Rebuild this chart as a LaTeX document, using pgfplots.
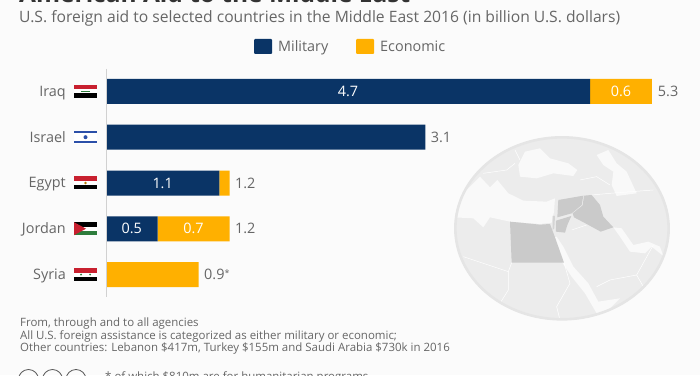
\documentclass[border=0pt]{standalone}
\usepackage{pgfplots}
\pgfplotsset{compat=1.18}
\usepackage{fontspec}
\setmainfont{Open Sans}
\definecolor{navy}{HTML}{0A3466}
\definecolor{amber}{HTML}{FFB000}
\definecolor{txt}{HTML}{666666}
\definecolor{bgc}{HTML}{FBFBFB}
\definecolor{land}{HTML}{ECECEC}
\definecolor{sea}{HTML}{F9F9F9}
\definecolor{mapb}{HTML}{CACACA}
\definecolor{flagr}{HTML}{C8202F}
\definecolor{flagg}{HTML}{2E7D3C}
\definecolor{flagb}{HTML}{2B4FA8}
\pgfplotstableread{
y mil eco
0 4.7 0.6
1 3.1 0
2 1.1 0.1
3 0.5 0.7
4 0   0.9
}\aid
\newcommand{\lab}{\fontsize{14.4}{16}\selectfont}
\newcommand{\foot}{\fontsize{11.47}{13}\selectfont}
\begin{document}
\begin{tikzpicture}[x=1pt,y=1pt]
\path[use as bounding box] (0,0) rectangle (700,375);
\clip (0,0) rectangle (700,375);
\fill[bgc] (0,0) rectangle (700,375);
% map backdrop (drawn in the coordinates of a 3x crop of the reference)
\begin{scope}[shift={(440,245)},x=0.3333pt,y=-0.3333pt]
\begin{scope}
\clip (366,295) ellipse [x radius=322,y radius=275];
\fill[land] (366,295) ellipse [x radius=322,y radius=275];
% Mediterranean
\fill[sea] (40,262) -- (75,185) -- (120,140) -- (150,172) -- (172,150) -- (205,190) -- (250,212) -- (320,215) -- (345,205) -- (342,245) -- (335,278) -- (300,282) -- (210,275) -- (150,262) -- (130,292) -- (100,265) -- cycle;
% Black Sea
\fill[sea] (235,105) -- (255,65) -- (300,55) -- (330,85) -- (385,100) -- (412,120) -- (400,138) -- (340,130) -- (290,145) -- (240,140) -- cycle;
% Caspian
\fill[sea] (470,75) -- (505,60) -- (530,100) -- (560,125) -- (590,190) -- (530,198) -- (515,165) -- (520,125) -- (490,105) -- cycle;
% Red Sea
\fill[sea] (310,305) -- (335,325) -- (350,320) -- (370,350) -- (400,410) -- (445,460) -- (475,515) -- (540,505) -- (500,545) -- (470,550) -- (435,490) -- (395,440) -- (365,395) -- cycle;
% Gulf
\fill[sea] (520,292) -- (545,295) -- (580,345) -- (625,335) -- (660,350) -- (670,378) -- (635,350) -- (615,370) -- (570,365) -- (540,320) -- cycle;
% highlighted countries
\fill[mapb] (210,275) -- (300,284) -- (330,282) -- (345,322) -- (372,398) -- (215,398) -- cycle;
\fill[mapb] (355,210) -- (430,197) -- (425,225) -- (395,250) -- (352,262) -- cycle;
\fill[mapb] (432,197) -- (455,195) -- (480,225) -- (490,260) -- (520,292) -- (482,305) -- (440,282) -- (402,262) -- (398,250) -- (428,226) -- cycle;
\fill[mapb] (348,272) -- (394,258) -- (382,285) -- (375,308) -- (348,305) -- cycle;
\fill[mapb!70!land] (338,258) -- (345,258) -- (343,295) -- (338,300) -- cycle;
% borders
\draw[white,line width=0.5pt] (70,380) -- (205,425) -- (205,480) -- (180,520);
\draw[white,line width=0.5pt] (215,398) -- (205,425);
\draw[white,line width=0.5pt] (180,520) -- (250,560);
\draw[white,line width=0.5pt] (372,398) -- (390,460) -- (350,530) -- (360,570);
\draw[white,line width=0.5pt] (470,470) -- (510,450) -- (590,435) -- (610,470);
\draw[white,line width=0.5pt] (590,435) -- (640,345);
\draw[white,line width=0.5pt] (395,300) -- (440,285);
\draw[white,line width=0.5pt] (455,195) -- (510,190) -- (640,180);
\draw[white,line width=0.5pt] (130,130) -- (200,120) -- (225,100);
\draw[white,line width=0.5pt] (225,60) -- (240,90);
\draw[white,line width=0.5pt] (420,150) -- (470,140) -- (510,165);
\end{scope}
\draw[white!90!black,line width=2.6pt] (366,295) ellipse [x radius=320,y radius=273];
\end{scope}
\begin{axis}[
  at={(106pt,77.6pt)},anchor=south west,
  scale only axis,width=594pt,height=228.8pt,
  xmin=0,xmax=5.767,ymin=-0.5,ymax=4.5,y dir=reverse,
  xbar stacked,bar width=25pt,
  axis line style={draw=none},
  axis y line*=left,
  ticks=none,clip=false,
  after end axis/.code={
    \node[white,font=\lab] at (axis cs:2.35,0){4.7};
    \node[white,font=\lab] at (axis cs:5.0,0){0.6};
    \node[txt,anchor=west,font=\lab,xshift=2.5pt] at (axis cs:5.3,0){5.3};
    \node[txt,anchor=west,font=\lab,xshift=2pt] at (axis cs:3.1,1){3.1};
    \node[white,font=\lab] at (axis cs:0.55,2){1.1};
    \node[txt,anchor=west,font=\lab,xshift=2pt] at (axis cs:1.2,2){1.2};
    \node[white,font=\lab] at (axis cs:0.25,3){0.5};
    \node[white,font=\lab] at (axis cs:0.85,3){0.7};
    \node[txt,anchor=west,font=\lab,xshift=2pt] at (axis cs:1.2,3){1.2};
    \node[txt,anchor=west,font=\lab,xshift=2pt] at (axis cs:0.9,4){0.9\raisebox{3pt}{\fontsize{9}{9}\selectfont*}};
  },
]
\draw[white!82!black,line width=0.9pt] (axis cs:0,-0.5) -- (axis cs:0,4.5);
\addplot[fill=navy,draw=none] table[x=mil,y=y]{\aid};
\addplot[fill=amber,draw=none] table[x=eco,y=y]{\aid};
\end{axis}
\begin{scope}[yshift=375pt,y=-1pt,every node/.style={text=txt,inner sep=0pt}]
% title and subtitle
\node[anchor=base west,text=black!80,inner sep=0pt,font=\fontsize{24.5}{26}\bfseries\selectfont] at (19,3) {American Aid to the Middle East};
\node[anchor=base west,font=\fontsize{15.65}{18}\selectfont] at (19,23) {U.S. foreign aid to selected countries in the Middle East 2016 (in billion U.S. dollars)};
% legend
\fill[navy,rounded corners=1pt] (254,39) rectangle (272,54);
\node[anchor=base west,font=\lab] at (278,52) {Military};
\fill[amber,rounded corners=1pt] (356,39) rectangle (374,54);
\node[anchor=base west,font=\lab] at (380,52) {Economic};
% country names
\foreach \n/\yy in {Iraq/96.5,Israel/142.2,Egypt/188,Jordan/233.7,Syria/279.5}
  \node[anchor=base east,font=\lab] at (66,\yy) {\n};
% flags
\newcommand{\tricolor}[4]{%
  \fill[#2] (74,#1-6.5) rectangle (97,#1-2);
  \fill[#3] (74,#1-2) rectangle (97,#1+2);
  \fill[#4] (74,#1+2) rectangle (97,#1+6.5);}
\tricolor{91.5}{flagr}{white}{black}
\fill[flagg] (81,91) rectangle (90,92.5);
\fill[white] (74,131) rectangle (97,144);
\fill[flagb] (74,131.5) rectangle (97,133);
\fill[flagb] (74,141.5) rectangle (97,143);
\fill[flagb] (85.5,137.2) circle (2);
\tricolor{183}{flagr}{white}{black}
\fill[amber!70!black] (85.5,183) circle (1.4);
\fill[black] (74,222.2) rectangle (97,226.5);
\fill[white] (74,226.5) rectangle (97,231);
\fill[flagg] (74,231) rectangle (97,235.2);
\fill[flagr] (74,222.2) -- (86,228.7) -- (74,235.2) -- cycle;
\tricolor{274.5}{flagr}{white}{black}
\fill[flagg] (81,274.5) circle (1); \fill[flagg] (90,274.5) circle (1);
% footnotes
\node[anchor=base west,font=\foot] at (20,326) {From, through and to all agencies};
\node[anchor=base west,font=\foot] at (20,339) {All U.S. foreign assistance is categorized as either military or economic;};
\node[anchor=base west,font=\foot] at (20,351) {Other countries: Lebanon \$417m, Turkey \$155m and Saudi Arabia \$730k in 2016};
\node[anchor=base west,font=\foot] at (105,380) {* of which \$810m are for humanitarian programs};
\foreach \cx in {28.5,52.5,76}
  \draw[black!65,line width=0.8pt] (\cx,379.5) circle (10);
\end{scope}
\end{tikzpicture}
\end{document}
